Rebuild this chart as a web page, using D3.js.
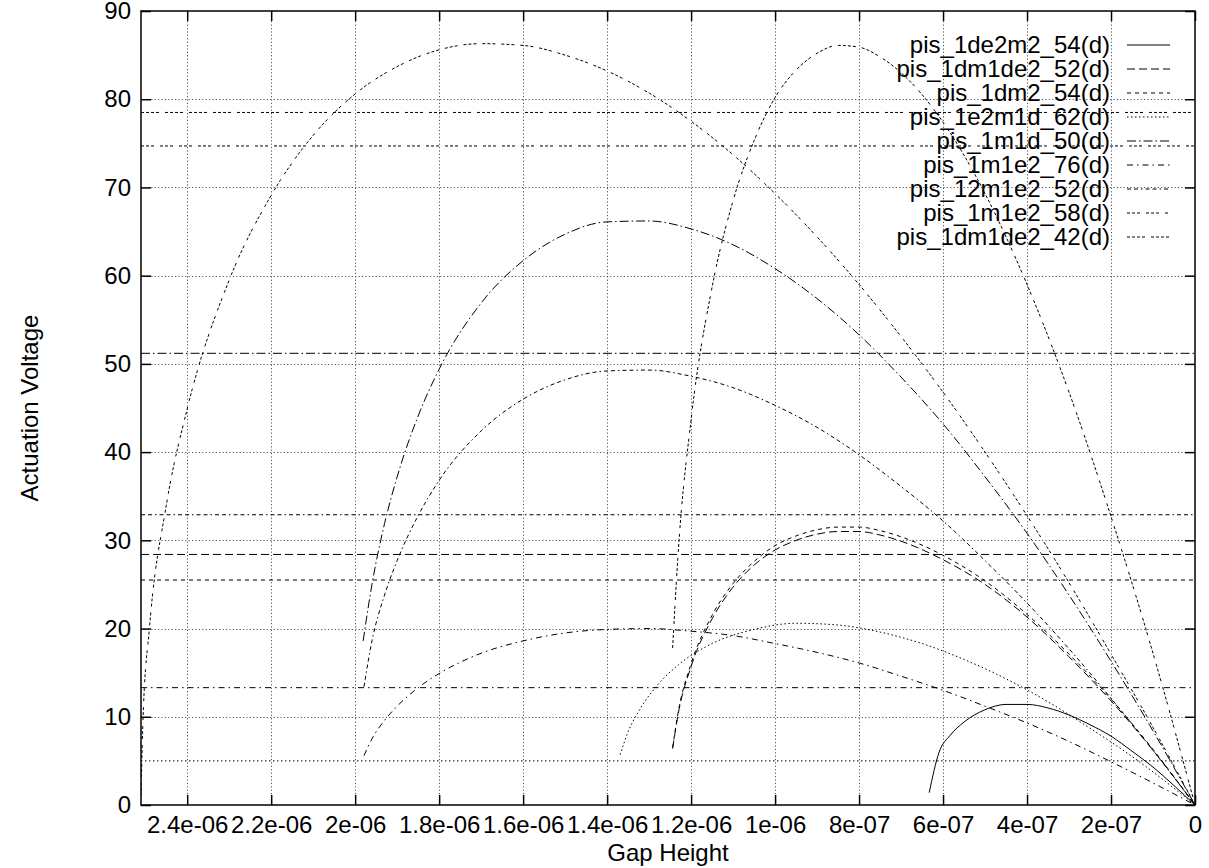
<!DOCTYPE html>
<html><head><meta charset="utf-8">
<script src="https://cdn.jsdelivr.net/npm/d3@7"></script>
<style>
body{margin:0;background:#fff}
svg{display:block}
text{font-family:"Liberation Sans",Arial,Helvetica,sans-serif;fill:#000}
</style>
</head><body>
<svg id="chart" width="1209" height="868"></svg>
<script>
// ---------------- data ----------------
const seriesNames = ["pis_1de2m2_54(d)","pis_1dm1de2_52(d)","pis_1dm2_54(d)","pis_1e2m1d_62(d)",
  "pis_1m1d_50(d)","pis_1m1e2_76(d)","pis_12m1e2_52(d)","pis_1m1e2_58(d)","pis_1dm1de2_42(d)"];

const xTickValues = [2.4e-6,2.2e-6,2.0e-6,1.8e-6,1.6e-6,1.4e-6,1.2e-6,1.0e-6,8e-7,6e-7,4e-7,2e-7,0];
const xTickLabels = ["2.4e-06","2.2e-06","2e-06","1.8e-06","1.6e-06","1.4e-06","1.2e-06","1e-06","8e-07","6e-07","4e-07","2e-07","0"];
const yTickValues = [0,10,20,30,40,50,60,70,80,90];
const xLabel = "Gap Height";
const yLabel = "Actuation Voltage";

// series 1
const s1Gap  = [6.33e-7,6.10e-7,5.83e-7,5.5e-7,5.0e-7,4.5e-7,4.0e-7,3.5e-7,3.0e-7,2.5e-7,2.0e-7,1.5e-7,1.0e-7,0.5e-7,0];
const s1Volt = [1.4,5.9,7.9,9.4,10.8,11.4,11.4,11.0,10.2,9.1,7.8,6.1,4.3,2.2,0];
// series 2
const s2Gap  = [12.44e-7,12.3e-7,12e-7,11.5e-7,11e-7,10.5e-7,10e-7,9.5e-7,9e-7,8.5e-7,8e-7,7.5e-7,7e-7,6e-7,5e-7,4e-7,3e-7,2e-7,1e-7,0];
const s2Volt = [6.4,10.5,15.7,21.1,24.7,27.2,28.9,30.0,30.7,31.0,31.0,30.6,29.9,27.8,25.0,21.3,16.8,11.8,6.2,0];
// series 3
const s3Gap  = [12.44e-7,12.3e-7,12e-7,11.5e-7,11e-7,10.5e-7,10e-7,9.5e-7,9e-7,8.5e-7,8e-7,7.5e-7,7e-7,6e-7,5e-7,4e-7,3e-7,2e-7,1e-7,0];
const s3Volt = [6.5,10.7,16.0,21.5,25.1,27.6,29.4,30.5,31.2,31.5,31.5,31.1,30.4,28.3,25.4,21.6,17.1,12.0,6.3,0];
// series 4
const s4Gap  = [13.69e-7,13.5e-7,13.2e-7,12.8e-7,12.3e-7,11.5e-7,10.5e-7,9.5e-7,8.5e-7,7.5e-7,6.5e-7,5.5e-7,4.5e-7,3.5e-7,2.5e-7,1.5e-7,0.5e-7,0];
const s4Volt = [5.7,8.3,11.0,13.6,15.9,18.3,19.9,20.6,20.4,19.6,18.3,16.5,14.3,11.7,8.7,5.5,1.9,0];
// series 5
const s5Gap  = [19.81e-7,19.6e-7,19.3e-7,19e-7,18.5e-7,18e-7,17e-7,16e-7,15e-7,14e-7,13e-7,12e-7,11e-7,10e-7,9e-7,8e-7,7e-7,6e-7,5e-7,4e-7,3e-7,2e-7,1e-7,0];
const s5Volt = [18.6,25.0,31.9,37.2,44.1,49.4,56.9,61.7,64.7,66.1,66.2,65.3,63.5,60.8,57.4,53.3,48.5,43.2,37.2,30.8,23.8,16.3,8.4,0];
// series 6
const s6Gap  = [19.79e-7,19.6e-7,19.3e-7,19e-7,18.5e-7,18e-7,17e-7,16e-7,15e-7,14e-7,13e-7,12e-7,11e-7,10e-7,9e-7,8e-7,7e-7,6e-7,5e-7,4e-7,3e-7,2e-7,1e-7,0];
const s6Volt = [5.6,7.5,9.6,11.2,13.3,14.9,17.2,18.6,19.5,19.9,20.0,19.7,19.2,18.3,17.3,16.1,14.6,13.0,11.2,9.3,7.2,4.9,2.5,0];
// series 7
const s7Gap  = [19.79e-7,19.6e-7,19.3e-7,19e-7,18.5e-7,18e-7,17e-7,16e-7,15e-7,14e-7,13e-7,12e-7,11e-7,10e-7,9e-7,8e-7,7e-7,6e-7,5e-7,4e-7,3e-7,2e-7,1e-7,0];
const s7Volt = [13.4,18.6,23.8,27.7,32.8,36.8,42.4,46.0,48.2,49.2,49.3,48.6,47.3,45.3,42.8,39.7,36.1,32.2,27.7,22.9,17.7,12.1,6.2,0];
// series 8
const s8Gap  = [25.1e-7,25.05e-7,24.9e-7,24.5e-7,24e-7,23e-7,22e-7,21e-7,20e-7,19e-7,18e-7,17e-7,16e-7,15e-7,14e-7,13e-7,12e-7,11e-7,10e-7,9e-7,8e-7,7e-7,6e-7,5e-7,4e-7,3e-7,2e-7,1e-7,0];
const s8Volt = [1.0,10.0,20.0,33.9,44.9,59.5,69.1,75.9,80.6,83.7,85.6,86.3,86.1,85.0,83.2,80.7,77.5,73.7,69.3,64.4,59.0,53.1,46.8,40.0,32.8,25.2,17.1,8.8,0];
// series 9
const s9Gap  = [12.44e-7,12.3e-7,12e-7,11.5e-7,11e-7,10.5e-7,10e-7,9.5e-7,9e-7,8.5e-7,8e-7,7.5e-7,7e-7,6e-7,5e-7,4e-7,3e-7,2e-7,1e-7,0];
const s9Volt = [17.8,29.1,43.7,58.7,68.5,75.3,80.2,83.3,85.2,86.1,85.9,84.8,83.0,77.4,69.3,59.0,46.8,32.7,17.2,0];

// constant (horizontal) level of each series
const levelVolt = [null,28.4,25.5,5.0,51.2,13.3,32.9,74.7,78.5];

// ---------------- drawing ----------------
const gaps  = [s1Gap,s2Gap,s3Gap,s4Gap,s5Gap,s6Gap,s7Gap,s8Gap,s9Gap];
const volts = [s1Volt,s2Volt,s3Volt,s4Volt,s5Volt,s6Volt,s7Volt,s8Volt,s9Volt];
const dashes = [null,"8,4","4,4","1.5,2.5","9,3,1.5,3","6,4,1.5,4","4,3,4,3,1.5,3","3,2,3,2,3,6","3,2,3,2,3,2,3,6"];

const L = 141, R = 1195, T = 11, B = 805;
const svg = d3.select("#chart");
const x = d3.scaleLinear().domain([2.51e-6, 0]).range([L, R]);
const y = d3.scaleLinear().domain([0, 90]).range([B, T]);

svg.append("defs").append("clipPath").attr("id","clip")
  .append("rect").attr("x",L).attr("y",T).attr("width",R-L).attr("height",B-T);

// grid
const grid = svg.append("g").attr("stroke","#555").attr("stroke-width",1).attr("stroke-dasharray","1.2,2.2");
grid.selectAll(".gx").data(xTickValues.filter(v=>v>0)).join("line")
  .attr("x1",d=>Math.round(x(d))+0.5).attr("x2",d=>Math.round(x(d))+0.5).attr("y1",T).attr("y2",B);
grid.selectAll(".gy").data(yTickValues.filter(v=>v>0&&v<90)).join("line")
  .attr("y1",d=>Math.round(y(d))+0.5).attr("y2",d=>Math.round(y(d))+0.5).attr("x1",L).attr("x2",R);

// series
const plot = svg.append("g").attr("clip-path","url(#clip)");
const line = d3.line().x(d=>x(d[0])).y(d=>y(d[1])).curve(d3.curveMonotoneX);
seriesNames.forEach((name,i)=>{
  const pts = gaps[i].map((g,j)=>[g,volts[i][j]]);
  plot.append("path").attr("d",line(pts)).attr("fill","none").attr("stroke","#000")
    .attr("stroke-width",1).attr("stroke-dasharray",dashes[i]);
  if (levelVolt[i] !== null) {
    plot.append("line").attr("x1",x.range()[0]).attr("x2",x.range()[1])
      .attr("y1",y(levelVolt[i])).attr("y2",y(levelVolt[i]))
      .attr("stroke","#000").attr("stroke-width",1).attr("stroke-dasharray",dashes[i]);
  }
});

// axes
function styleAxis(g){ g.select(".domain").remove(); g.selectAll(".tick line").attr("stroke","#000").attr("stroke-width",1.5);
  g.selectAll("text").attr("font-size",24).attr("font-family","Liberation Sans, Arial, sans-serif").attr("fill","#000"); }
svg.append("g").attr("transform",`translate(0,${B})`)
  .call(d3.axisBottom(x).tickValues(xTickValues).tickFormat((d,i)=>xTickLabels[i]).tickSize(-10).tickPadding(11)).call(styleAxis);
svg.append("g").attr("transform",`translate(0,${T})`)
  .call(d3.axisTop(x).tickValues(xTickValues).tickFormat("").tickSize(-10)).call(styleAxis);
svg.append("g").attr("transform",`translate(${L},0)`)
  .call(d3.axisLeft(y).tickValues(yTickValues).tickFormat(d3.format("d")).tickSize(-10).tickPadding(10)).call(styleAxis);
svg.append("g").attr("transform",`translate(${R},0)`)
  .call(d3.axisRight(y).tickValues(yTickValues).tickFormat("").tickSize(-10)).call(styleAxis);

// border
svg.append("rect").attr("x",L).attr("y",T).attr("width",R-L).attr("height",B-T)
  .attr("fill","none").attr("stroke","#000").attr("stroke-width",1.5);

// legend
const leg = svg.append("g");
seriesNames.forEach((name,i)=>{
  const yy = 45 + i*24;
  leg.append("text").attr("x",1110).attr("y",yy).attr("dy","0.35em").attr("text-anchor","end")
    .attr("font-size",24).text(name);
  leg.append("line").attr("x1",1127).attr("x2",1170).attr("y1",yy).attr("y2",yy)
    .attr("stroke","#000").attr("stroke-width",1).attr("stroke-dasharray",dashes[i]);
});

// axis titles
svg.append("text").attr("x",(L+R)/2).attr("y",861).attr("text-anchor","middle").attr("font-size",24).text(xLabel);
svg.append("text").attr("transform",`translate(30,${(T+B)/2}) rotate(-90)`).attr("text-anchor","middle")
  .attr("dy","0.35em").attr("font-size",24).text(yLabel);
</script>
</body></html>
